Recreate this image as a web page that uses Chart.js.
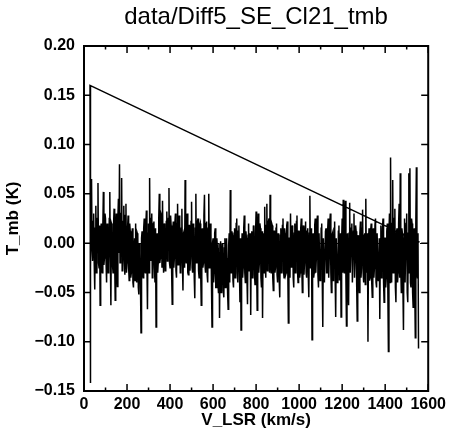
<!DOCTYPE html>
<html><head><meta charset="utf-8">
<script src="https://cdn.jsdelivr.net/npm/chart.js@4"></script>
<style>html,body{margin:0;padding:0;background:#fff}canvas{display:block}</style>
</head><body>
<canvas id="c" width="450" height="442" style="width:450px;height:442px"></canvas>
<script>
const chartTitle = 'data/Diff5_SE_Cl21_tmb';
const xTitle = 'V_LSR (km/s)';
const yTitle = 'T_mb (K)';
const xTicks = [0, 200, 400, 600, 800, 1000, 1200, 1400, 1600];
const xMinorTicks = [100, 300, 500, 700, 900, 1100, 1300, 1500];
const yTicks = [-0.15, -0.10, -0.05, 0, 0.05, 0.10, 0.15, 0.20];

// wrap-around segment (end of spectrum back to first channel)
const wrapVel = [1560, 28, 28];
const wrapTmb = [0.001, 0.160, -0.142];

// spectrum channels: 30 km/s to 1555 km/s, 2.5 km/s apart
const velStart = 30;
const velStep = 2.5;
const tmb = [
  // 30-127.5
  0.012, -0.025, 0.065, -0.005, -0.018, 0.022, 0.030, -0.020, -0.047, 0.015,
  0.038, -0.030, -0.012, 0.025, 0.061, -0.020, -0.025, 0.018, -0.063, 0.005,
  0.020, -0.028, -0.030, 0.015, 0.052, -0.022, -0.015, 0.030, 0.025, -0.018,
  -0.040, 0.020, 0.010, -0.030, -0.022, 0.025, 0.052, -0.015, -0.063, 0.020,
  // 130-227.5
  0.018, -0.022, -0.030, 0.020, 0.035, -0.015, -0.058, 0.010, 0.030, -0.025,
  -0.044, 0.025, 0.045, -0.010, 0.080, -0.020, -0.010, 0.030, 0.066, -0.028,
  -0.025, 0.022, 0.038, -0.018, -0.032, 0.028, 0.040, -0.030, -0.020, 0.015,
  0.028, -0.025, -0.038, 0.020, 0.012, -0.035, -0.030, 0.010, 0.015, -0.040,
  // 230-327.5
  -0.045, 0.002, 0.005, -0.038, 0.020, -0.030, -0.040, 0.010, 0.008, -0.045,
  -0.052, 0.000, -0.010, -0.040, -0.091, 0.005, 0.012, -0.030, -0.035, 0.015,
  0.025, -0.028, -0.030, 0.018, 0.033, -0.020, -0.067, 0.010, 0.020, -0.030,
  0.066, -0.015, -0.018, 0.025, 0.030, -0.035, -0.028, 0.020, 0.022, -0.025,
  // 330-427.5
  -0.040, 0.015, -0.085, 0.005, 0.010, -0.030, -0.020, 0.025, 0.050, -0.020,
  -0.015, 0.030, 0.028, -0.025, 0.043, -0.010, -0.030, 0.020, 0.015, -0.028,
  -0.022, 0.022, 0.032, -0.018, -0.008, 0.025, 0.056, -0.020, -0.025, 0.028,
  0.018, -0.030, -0.062, 0.012, 0.022, -0.025, -0.015, 0.020, 0.030, -0.028,
  // 430-527.5
  -0.035, 0.020, 0.040, -0.022, -0.010, 0.028, 0.022, -0.030, -0.028, 0.015,
  0.035, -0.020, -0.048, 0.010, 0.012, -0.025, 0.064, -0.015, -0.020, 0.025,
  0.030, -0.030, -0.032, 0.018, 0.018, -0.028, -0.015, 0.022, 0.042, -0.025,
  -0.030, 0.020, 0.010, -0.035, -0.056, 0.015, 0.050, -0.020, -0.012, 0.022,
  // 530-627.5
  0.025, -0.028, -0.035, 0.018, 0.020, -0.030, -0.063, 0.010, 0.015, -0.025,
  -0.020, 0.028, 0.049, -0.022, -0.030, 0.020, 0.022, -0.032, -0.040, 0.015,
  0.050, -0.025, -0.018, 0.020, 0.010, -0.040, -0.085, 0.000, 0.005, -0.040,
  -0.030, 0.010, 0.015, -0.045, -0.045, 0.005, -0.005, -0.040, -0.050, 0.000,
  // 630-727.5
  -0.076, -0.010, 0.002, -0.050, -0.040, 0.000, -0.008, -0.048, -0.055, -0.005,
  0.005, -0.045, -0.035, 0.005, -0.015, -0.050, -0.067, -0.002, 0.010, -0.040,
  0.054, -0.030, -0.030, 0.012, 0.008, -0.038, -0.045, 0.010, 0.015, -0.035,
  -0.028, 0.020, 0.025, -0.030, -0.040, 0.012, 0.018, -0.028, -0.060, 0.005,
  // 730-827.5
  -0.088, -0.010, 0.010, -0.035, -0.025, 0.015, 0.028, -0.030, -0.040, 0.012,
  0.005, -0.035, -0.062, 0.008, 0.020, -0.028, -0.015, 0.010, -0.073, 0.005,
  0.012, -0.035, -0.030, 0.018, 0.015, -0.032, -0.042, 0.010, 0.032, -0.025,
  -0.068, 0.008, 0.030, -0.030, -0.020, 0.020, 0.015, -0.035, -0.045, 0.012,
  // 830-927.5
  -0.076, 0.000, 0.010, -0.030, 0.037, -0.020, -0.035, 0.018, 0.040, -0.028,
  -0.010, 0.022, 0.025, -0.030, 0.049, -0.015, -0.030, 0.020, 0.018, -0.035,
  -0.048, 0.012, 0.012, -0.030, -0.025, 0.015, 0.020, -0.032, -0.040, 0.010,
  0.005, -0.038, -0.055, 0.008, 0.015, -0.030, -0.020, 0.018, 0.025, -0.028,
  // 930-1027.5
  -0.035, 0.015, 0.010, -0.032, -0.030, 0.018, 0.022, -0.030, -0.081, 0.005,
  0.005, -0.035, 0.030, -0.020, -0.025, 0.018, 0.015, -0.035, -0.045, 0.010,
  0.020, -0.030, -0.010, 0.022, 0.028, -0.028, -0.040, 0.012, 0.012, -0.035,
  -0.030, 0.015, 0.025, -0.025, -0.050, 0.010, 0.018, -0.032, -0.020, 0.015,
  // 1030-1127.5
  0.022, -0.030, -0.035, 0.012, 0.015, -0.032, -0.055, 0.010, 0.048, -0.025,
  -0.020, 0.015, -0.098, 0.000, 0.010, -0.035, -0.030, 0.018, 0.025, -0.030,
  -0.015, 0.020, 0.028, -0.032, -0.045, 0.010, 0.010, -0.038, -0.028, 0.015,
  0.020, -0.035, -0.085, 0.005, 0.005, -0.040, -0.040, 0.012, 0.015, -0.030,
  // 1130-1227.5
  -0.030, 0.012, 0.025, -0.035, -0.015, 0.020, 0.030, -0.030, -0.050, 0.008,
  0.010, -0.038, -0.025, 0.015, 0.022, -0.035, -0.075, 0.005, 0.005, -0.040,
  -0.035, 0.012, 0.018, -0.038, -0.020, 0.010, -0.075, 0.000, 0.025, -0.030,
  0.044, -0.020, -0.030, 0.015, 0.043, -0.035, -0.084, 0.005, 0.010, -0.040,
  // 1230-1327.5
  -0.063, 0.010, 0.041, -0.030, -0.030, 0.015, 0.020, -0.040, -0.040, 0.012,
  0.030, -0.035, -0.015, 0.018, 0.012, -0.042, -0.079, 0.005, 0.008, -0.040,
  -0.050, 0.010, 0.022, -0.035, -0.025, 0.015, 0.034, -0.030, -0.040, 0.008,
  0.010, -0.042, 0.045, -0.025, -0.030, 0.010, -0.100, 0.000, 0.015, -0.038,
  // 1330-1427.5
  -0.035, 0.012, 0.020, -0.040, -0.055, 0.008, 0.015, -0.035, -0.025, 0.018,
  0.025, -0.040, -0.045, 0.010, 0.010, -0.038, -0.030, 0.005, -0.077, 0.000,
  0.018, -0.035, -0.020, 0.015, 0.025, -0.040, -0.060, 0.005, 0.005, -0.045,
  -0.035, 0.012, 0.020, -0.050, -0.110, 0.010, 0.030, -0.040, 0.087, -0.030,
  // 1430-1555
  -0.040, 0.020, 0.064, -0.030, -0.020, 0.025, 0.035, -0.045, -0.060, 0.010,
  0.015, -0.040, -0.030, 0.020, 0.040, -0.035, 0.071, -0.025, -0.050, 0.015,
  0.010, -0.045, -0.088, 0.005, 0.025, -0.040, -0.040, 0.020, 0.030, -0.050,
  -0.060, 0.010, 0.071, -0.030, 0.076, -0.040, -0.045, 0.025, 0.020, -0.050,
  -0.065, 0.010, 0.015, -0.045, -0.096, 0.020, 0.077, -0.030, -0.035, 0.010,
  -0.107
];

const points = [];
for (let i = 0; i < wrapVel.length; i++) points.push({x: wrapVel[i], y: wrapTmb[i]});
for (let i = 0; i < tmb.length; i++) points.push({x: velStart + i * velStep, y: tmb[i]});

const FONT = 'Liberation Sans';

function fmtY(v) {
  if (Math.abs(v) < 1e-9) return '0.00';
  return (v < 0 ? '\u2212' : '') + Math.abs(v).toFixed(2);
}

const framePlugin = {
  id: 'frame',
  beforeDraw(chart) {
    const ctx = chart.ctx;
    ctx.save();
    ctx.fillStyle = '#fff';
    ctx.fillRect(0, 0, chart.width, chart.height);
    ctx.restore();
  },
  beforeDatasetsDraw(chart) {
    const {ctx, chartArea: a, scales} = chart;
    const y0 = Math.round(scales.y.getPixelForValue(0)) + 0.5;
    ctx.save();
    ctx.strokeStyle = '#000';
    ctx.lineWidth = 1;
    ctx.setLineDash([3, 3]);
    ctx.beginPath();
    ctx.moveTo(a.left, y0);
    ctx.lineTo(a.right, y0);
    ctx.stroke();
    ctx.restore();
  },
  afterDatasetsDraw(chart) {
    const {ctx, chartArea: a, scales} = chart;
    ctx.save();
    ctx.strokeStyle = '#000';
    ctx.lineWidth = 2;
    ctx.strokeRect(a.left, a.top, a.right - a.left, a.bottom - a.top);
    ctx.lineWidth = 1.5;
    ctx.beginPath();
    const tickX = (v, len) => {
      const px = scales.x.getPixelForValue(v);
      ctx.moveTo(px, a.bottom); ctx.lineTo(px, a.bottom - len);
      ctx.moveTo(px, a.top); ctx.lineTo(px, a.top + len);
    };
    xTicks.forEach(v => tickX(v, 7));
    xMinorTicks.forEach(v => tickX(v, 3.5));
    yTicks.forEach(v => {
      const py = scales.y.getPixelForValue(v);
      ctx.moveTo(a.left, py); ctx.lineTo(a.left + 7, py);
      ctx.moveTo(a.right, py); ctx.lineTo(a.right - 7, py);
    });
    ctx.stroke();
    ctx.restore();
  },
  afterDraw(chart) {
    const {ctx, chartArea: a} = chart;
    ctx.save();
    ctx.fillStyle = '#000';
    ctx.font = '24px "' + FONT + '"';
    ctx.textAlign = 'center';
    ctx.textBaseline = 'alphabetic';
    ctx.fillText(chartTitle, (a.left + a.right) / 2, 24);
    ctx.restore();
  }
};

new Chart(document.getElementById('c'), {
  type: 'line',
  data: {
    datasets: [{
      data: points,
      borderColor: '#000',
      borderWidth: 1.5,
      pointRadius: 0,
      tension: 0,
      fill: false
    }]
  },
  options: {
    responsive: false,
    devicePixelRatio: 1,
    animation: false,
    events: [],
    layout: {padding: {top: 46, right: 20, bottom: 0, left: 0}},
    plugins: {legend: {display: false}, tooltip: {enabled: false}, title: {display: false}},
    scales: {
      x: {
        type: 'linear',
        min: 0, max: 1600,
        afterBuildTicks: s => { s.ticks = xTicks.map(v => ({value: v})); },
        afterFit: s => { s.height = 51; },
        grid: {display: false, drawTicks: false},
        border: {display: false},
        ticks: {
          color: '#000', autoSkip: false, maxRotation: 0, minRotation: 0, padding: 4,
          font: {family: FONT, size: 16, weight: 'bold'},
          callback: v => String(v)
        },
        title: {display: true, text: xTitle, color: '#000', font: {family: FONT, size: 17, weight: 'bold'}, padding: {top: 0, bottom: 11}}
      },
      y: {
        type: 'linear',
        min: -0.15, max: 0.20,
        afterBuildTicks: s => { s.ticks = yTicks.map(v => ({value: v})); },
        afterFit: s => { s.width = 84; },
        grid: {display: false, drawTicks: false},
        border: {display: false},
        ticks: {
          color: '#000', padding: 9,
          font: {family: FONT, size: 16, weight: 'bold'},
          callback: v => fmtY(v)
        },
        title: {display: true, text: yTitle, color: '#000', font: {family: FONT, size: 17, weight: 'bold'}, padding: {top: 3, bottom: 0}}
      }
    }
  },
  plugins: [framePlugin]
});
</script>
</body></html>
